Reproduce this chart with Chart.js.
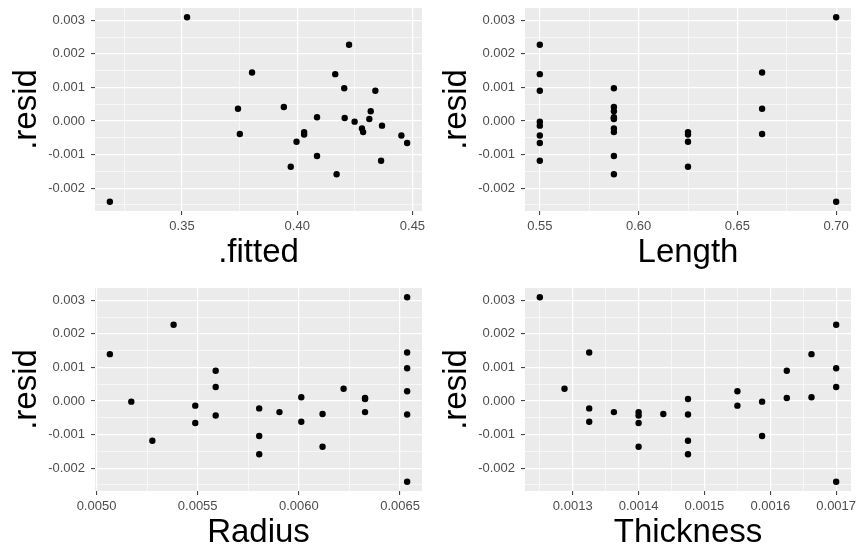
<!DOCTYPE html>
<html>
<head>
<meta charset="utf-8">
<title>Residual plots</title>
<script src="https://cdn.jsdelivr.net/npm/chart.js@4.4.0/dist/chart.umd.min.js"></script>
<style>
  html, body { margin: 0; padding: 0; background: #fff; overflow: hidden; }
  .panel { position: absolute; }
</style>
</head>
<body>
<div class="panel" style="left:0;top:0"><canvas id="p1" width="429" height="274"></canvas></div>
<div class="panel" style="left:430px;top:0"><canvas id="p2" width="428" height="274"></canvas></div>
<div class="panel" style="left:0;top:280px"><canvas id="p3" width="429" height="274"></canvas></div>
<div class="panel" style="left:430px;top:280px"><canvas id="p4" width="428" height="274"></canvas></div>
<script>
// one entry per observation, same order in every array
const resid = [-0.002405, 0.00309, 0.001445, 0.000365, -0.000385, 0.000415, -0.00062, -0.00136, -0.00033,
  -0.0004, 0.00011, -0.00104, 0.001395, -0.001585, 0.000975, 0.00009, 0.00227, -0.00002, -0.00022,
  -0.00033, 0.00006, 0.00029, 0.0009, -0.000138, -0.001185, -0.00043, -0.000655];
const fitted = [0.3187, 0.3522, 0.3804, 0.3743, 0.3751, 0.3942, 0.3997, 0.3972, 0.4030,
  0.4030, 0.4086, 0.4086, 0.4165, 0.4171, 0.4204, 0.4206, 0.4225, 0.4249, 0.4281,
  0.4286, 0.4313, 0.4319, 0.4339, 0.4368, 0.4364, 0.4452, 0.4477];
const lengthVals = [0.70, 0.70, 0.6625, 0.6625, 0.6625, 0.5875, 0.625, 0.625, 0.625,
  0.625, 0.5875, 0.5875, 0.55, 0.5875, 0.5875, 0.5875, 0.55, 0.55, 0.5875,
  0.5875, 0.5875, 0.5875, 0.55, 0.55, 0.55, 0.55, 0.55];
const radius = [0.006535, 0.006535, 0.006535, 0.006221, 0.006117, 0.005589, 0.006012, 0.006117, 0.005904,
  0.006535, 0.006012, 0.005804, 0.005066, 0.005804, 0.006535, 0.006327, 0.005381, 0.005172, 0.005804,
  0.006327, 0.006327, 0.006535, 0.005589, 0.005488, 0.005276, 0.005589, 0.005488];
const thickness = [0.0017, 0.00125, 0.001325, 0.0012875, 0.0014375, 0.0017, 0.001325, 0.0014, 0.0013625,
  0.001475, 0.0016625, 0.0015875, 0.0016625, 0.001475, 0.0017, 0.001625, 0.0017, 0.0015875, 0.001325,
  0.0014, 0.001475, 0.00155, 0.001625, 0.00155, 0.001475, 0.0014, 0.0014];

const residTicks = [-0.002, -0.001, 0, 0.001, 0.002, 0.003];
const fittedTicks = [0.35, 0.40, 0.45];
const lengthTicks = [0.55, 0.60, 0.65, 0.70];
const radiusTicks = [0.0050, 0.0055, 0.0060, 0.0065];
const thicknessTicks = [0.0013, 0.0014, 0.0015, 0.0016, 0.0017];

Chart.defaults.font.family = '"Liberation Sans", Arial, sans-serif';

const panelBg = {
  id: 'panelBg',
  beforeDraw(chart) {
    const { ctx, chartArea: a } = chart;
    ctx.save();
    ctx.fillStyle = '#EBEBEB';
    ctx.fillRect(a.left, a.top, a.right - a.left, a.bottom - a.top);
    ctx.restore();
  }
};

// ggplot style limits: data range plus 5% each side
function limits(vals) {
  const lo = Math.min(...vals), hi = Math.max(...vals);
  const pad = (hi - lo) * 0.05;
  return [lo - pad, hi + pad];
}

// major ticks plus the minor ones halfway between
function withMinor(major, lo, hi) {
  const step = major[1] - major[0];
  const out = major.map(v => ({ value: v }));
  for (let i = -1; i < major.length; i++) {
    const m = major[0] + (i + 0.5) * step;
    if (m > lo && m < hi) out.push({ value: m, minor: true });
  }
  return out.filter(t => t.value >= lo && t.value <= hi).sort((a, b) => a.value - b.value);
}

function axis(ticks, dec, lims, title, isX) {
  return {
    type: 'linear',
    min: lims[0],
    max: lims[1],
    afterBuildTicks: s => { s.ticks = withMinor(ticks, lims[0], lims[1]); },
    afterFit: s => {
      if (isX) { s.height = 63; s.paddingLeft = 0; s.paddingRight = 0; }
      else { s.width = 95; s.paddingTop = 0; s.paddingBottom = 0; }
    },
    border: { display: false },
    grid: {
      color: '#FFFFFF',
      lineWidth: c => (c.tick && c.tick.minor ? 0.6 : 1.2),
      tickColor: c => (c.tick && c.tick.minor ? 'rgba(0,0,0,0)' : '#333333'),
      tickLength: 4,
      tickWidth: 1
    },
    ticks: {
      autoSkip: false,
      maxRotation: 0,
      padding: isX ? 4 : 6,
      color: '#4D4D4D',
      font: { size: 13 },
      callback: function (v, i, t) { return t[i].minor ? '' : Number(v).toFixed(dec); }
    },
    title: {
      display: true,
      text: title,
      color: '#000000',
      font: { size: 33, lineHeight: 1 },
      padding: isX ? { top: 0, bottom: 5 } : { top: 10, bottom: 0 }
    }
  };
}

function makePanel(id, xVals, xTicks, xDec, xTitle) {
  const pts = xVals.map((x, i) => ({ x: x, y: resid[i] }));
  new Chart(document.getElementById(id), {
    type: 'scatter',
    data: {
      datasets: [{
        data: pts,
        backgroundColor: '#000000',
        borderWidth: 0,
        pointRadius: 3.2,
        pointHoverRadius: 3.2
      }]
    },
    options: {
      responsive: false,
      animation: false,
      layout: { padding: { top: 8, right: 7, bottom: 0, left: 0 } },
      plugins: { legend: { display: false }, tooltip: { enabled: false } },
      scales: {
        x: axis(xTicks, xDec, limits(xVals), xTitle, true),
        y: axis(residTicks, 3, limits(resid), '.resid', false)
      }
    },
    plugins: [panelBg]
  });
}

makePanel('p1', fitted, fittedTicks, 2, '.fitted');
makePanel('p2', lengthVals, lengthTicks, 2, 'Length');
makePanel('p3', radius, radiusTicks, 4, 'Radius');
makePanel('p4', thickness, thicknessTicks, 4, 'Thickness');
</script>
</body>
</html>
